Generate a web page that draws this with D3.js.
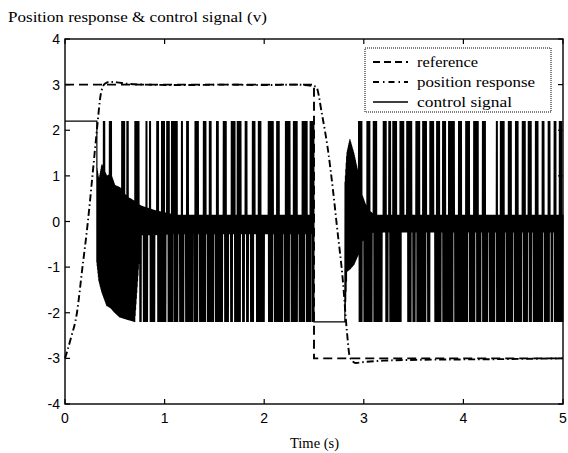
<!DOCTYPE html>
<html><head><meta charset="utf-8">
<script src="https://cdn.jsdelivr.net/npm/d3@7"></script>
<style>
html,body{margin:0;padding:0;background:#fff;}
svg{display:block;}
</style>
</head><body>
<svg id="c" width="568" height="453"></svg>
<script>
// ---------------- data ----------------
const xTicks = [0, 1, 2, 3, 4, 5];
const yTicks = [-4, -3, -2, -1, 0, 1, 2, 3, 4];
const titleText = "Position response & control signal (v)";
const xLabel = "Time (s)";
const legendLabels = ["reference", "position response", "control signal"];

// reference (square wave)
const refT = [0, 2.5, 2.5, 5];
const refV = [3, 3, -3, -3];

// position response
const posT = [0, 0.06, 0.12, 0.17, 0.23, 0.28, 0.32, 0.36, 0.40, 0.45, 0.52, 0.62, 0.8, 1.2, 1.6, 2.0, 2.3, 2.52, 2.58, 2.64, 2.69, 2.73, 2.79, 2.83, 2.86, 2.92, 3.0, 3.2, 3.6, 4.2, 5.0];
const posV = [-3.0, -2.55, -2.0, -1.1, 0.0, 1.1, 2.0, 2.8, 3.02, 3.06, 3.05, 3.02, 3.0, 2.99, 3.0, 2.99, 3.0, 2.96, 2.35, 1.57, 0.7, -0.1, -1.3, -2.4, -2.97, -3.1, -3.08, -3.05, -3.03, -3.02, -3.0];

// control signal: saturation level, start / saturated segments
const ctrlSat = 2.2;
const ctrlStartEnd = 0.32;       // holds +sat until here
const ctrlNegHold = [2.5, 2.81]; // holds -sat in this window
// envelope of the dense chattering band (region 1: 0.32-2.5, region 2: 2.81-5)
const band1T  = [0.32, 0.34, 0.37, 0.42, 0.46, 0.50, 0.55, 0.62, 0.70, 0.76, 0.90, 1.10, 2.50];
const band1Hi = [1.2, 0.9, 1.25, 1.0, 1.05, 0.8, 0.75, 0.55, 0.45, 0.35, 0.25, 0.15, 0.15];
const band1Lo = [-0.9, -1.3, -1.55, -1.85, -1.9, -2.0, -2.1, -2.15, -2.2, -0.3, -0.3, -0.28, -0.28];
const band2T  = [2.81, 2.83, 2.86, 2.90, 2.94, 2.98, 3.03, 3.1, 5.0];
const band2Hi = [0.8, 1.5, 1.8, 1.5, 1.1, 0.6, 0.3, 0.15, 0.15];
const band2Lo = [-2.2, -1.1, -1.05, -0.95, -0.75, -0.45, -0.3, -0.24, -0.24];
// intervals where the control signal hits +sat
const upSpikes = [
  [0.385,0.40],[0.445,0.47],[0.57,0.60],[0.62,0.635],[0.70,0.746],[0.813,0.826],[0.847,0.86],
  [0.92,0.94],[0.97,1.00],[1.02,1.05],[1.07,1.13],[1.17,1.18],[1.22,1.24],[1.305,1.34],
  [1.39,1.415],[1.45,1.47],[1.52,1.54],[1.59,1.62],[1.67,1.71],[1.73,1.77],[1.81,1.83],
  [1.88,1.91],[1.94,1.97],[2.04,2.09],[2.125,2.15],[2.21,2.26],[2.29,2.33],[2.38,2.43],[2.46,2.50],
  [2.945,2.98],[3.03,3.06],[3.095,3.13],[3.195,3.225],[3.25,3.27],[3.29,3.33],[3.36,3.40],
  [3.43,3.48],[3.52,3.56],[3.59,3.63],[3.66,3.70],[3.73,3.76],[3.79,3.82],[3.85,3.91],
  [3.95,3.98],[4.02,4.06],[4.10,4.15],[4.19,4.22],[4.33,4.34],[4.37,4.41],[4.45,4.48],
  [4.52,4.55],[4.59,4.62],[4.65,4.68],[4.72,4.75],[4.79,4.81],[4.85,4.87],[4.91,4.93],[4.96,4.99]
];
// intervals where the control signal hits -sat
const downSpikes = [
  [0.752,0.768],[0.786,0.829],[0.856,0.904],[0.931,1.014],[1.036,1.084],[1.096,1.134],[1.151,1.194],
  [1.211,1.284],[1.296,1.334],[1.351,1.414],[1.431,1.494],[1.511,1.584],[1.601,1.644],[1.661,1.684],
  [1.701,1.764],[1.781,1.804],[1.821,1.844],[1.861,1.894],[1.921,2.004],[2.041,2.084],[2.101,2.184],
  [2.201,2.254],[2.271,2.334],[2.351,2.404],[2.421,2.464],[2.476,2.5],
  [2.95,2.984],[3.001,3.084],[3.101,3.184],[3.221,3.244],[3.261,3.374],[3.441,3.474],[3.491,3.514],
  [3.531,3.624],[3.641,3.664],[3.711,3.724],[3.731,3.774],[3.791,3.894],[3.911,4.044],[4.061,4.114],
  [4.131,4.174],[4.191,4.244],[4.261,4.314],[4.331,4.414],[4.431,4.494],[4.511,4.584],[4.601,4.644],
  [4.661,4.684],[4.701,4.794],[4.811,4.864],[4.881,4.894],[4.911,5.0]
];

// ---------------- layout ----------------
const svg = d3.select("#c");
const L = 65, R = 563, T = 39, B = 404;
const x = d3.scaleLinear().domain([0, 5]).range([L, R]);
const y = d3.scaleLinear().domain([-4, 4]).range([B, T]);

// ---------------- build control signal path ----------------
function inAny(t, list) { return list.some(s => t >= s[0] && t <= s[1]); }
const ctrl = [[0, ctrlSat], [ctrlStartEnd, ctrlSat]];
function region(t0, t1, bT, bHi, bLo) {
  const hiS = d3.scaleLinear().domain(bT).range(bHi).clamp(true);
  const loS = d3.scaleLinear().domain(bT).range(bLo).clamp(true);
  const dt = 0.002;
  let k = 0;
  for (let t = t0; t <= t1 + 1e-9; t += dt, k++) {
    const hi = inAny(t, upSpikes) ? ctrlSat : hiS(t);
    const lo = inAny(t, downSpikes) ? -ctrlSat : loS(t);
    ctrl.push([t, k % 2 === 0 ? lo : hi]);
  }
}
region(ctrlStartEnd, ctrlNegHold[0], band1T, band1Hi, band1Lo);
ctrl.push([ctrlNegHold[0], -ctrlSat], [ctrlNegHold[1], -ctrlSat]);
region(ctrlNegHold[1], 5, band2T, band2Hi, band2Lo);

const line = d3.line().x(d => x(d[0])).y(d => y(d[1]));

const g = svg.append("g");
g.append("path").datum(ctrl).attr("d", line)
  .attr("fill", "none").attr("stroke", "#000").attr("stroke-width", 1.2);
g.append("path").datum(refT.map((t, i) => [t, refV[i]])).attr("d", line)
  .attr("fill", "none").attr("stroke", "#000").attr("stroke-width", 1.9)
  .attr("stroke-dasharray", "9,5");
g.append("path").datum(posT.map((t, i) => [t, posV[i]])).attr("d", d3.line().curve(d3.curveMonotoneX).x(d => x(d[0])).y(d => y(d[1])))
  .attr("fill", "none").attr("stroke", "#000").attr("stroke-width", 1.9)
  .attr("stroke-dasharray", "7,3,1.5,3");

// ---------------- axes ----------------
const fontSans = "'Liberation Sans', Arial, sans-serif";
const fontSerif = "'Liberation Serif', 'Times New Roman', serif";
const tick = 5;
const ax = svg.append("g");
ax.append("rect").attr("x", L).attr("y", T).attr("width", R - L).attr("height", B - T)
  .attr("fill", "none").attr("stroke", "#000").attr("stroke-width", 1.4);
xTicks.forEach(v => {
  ax.append("line").attr("x1", x(v)).attr("x2", x(v)).attr("y1", B).attr("y2", B - tick).attr("stroke", "#000").attr("stroke-width", 1.2);
  ax.append("line").attr("x1", x(v)).attr("x2", x(v)).attr("y1", T).attr("y2", T + tick).attr("stroke", "#000").attr("stroke-width", 1.2);
  ax.append("text").attr("x", x(v)).attr("y", 423).attr("text-anchor", "middle")
    .attr("font-family", fontSans).attr("font-size", 14).text(v);
});
yTicks.forEach(v => {
  ax.append("line").attr("x1", L).attr("x2", L + tick).attr("y1", y(v)).attr("y2", y(v)).attr("stroke", "#000").attr("stroke-width", 1.2);
  ax.append("line").attr("x1", R).attr("x2", R - tick).attr("y1", y(v)).attr("y2", y(v)).attr("stroke", "#000").attr("stroke-width", 1.2);
  ax.append("text").attr("x", 60).attr("y", y(v) + 5).attr("text-anchor", "end")
    .attr("font-family", fontSans).attr("font-size", 14).text(v);
});
svg.append("text").attr("x", 8).attr("y", 22).attr("font-family", fontSerif)
  .attr("font-size", 15.5).attr("textLength", 259).attr("lengthAdjust", "spacingAndGlyphs").text(titleText);
svg.append("text").attr("x", 290).attr("y", 448)
  .attr("font-family", fontSerif).attr("font-size", 14).attr("textLength", 49).attr("lengthAdjust", "spacingAndGlyphs").text(xLabel);

// ---------------- legend ----------------
const lg = svg.append("g");
lg.append("rect").attr("x", 365).attr("y", 48).attr("width", 186).attr("height", 64)
  .attr("fill", "#fff").attr("stroke", "#000").attr("stroke-width", 1).attr("stroke-dasharray", "1,1");
const dashes = ["7,4", "6,4,1.5,4", null];
const legendLens = [61, 118, 95];
legendLabels.forEach((lab, i) => {
  const yy = 62 + i * 20;
  const ln = lg.append("line").attr("x1", 373).attr("x2", 408).attr("y1", yy).attr("y2", yy)
    .attr("stroke", "#000").attr("stroke-width", i < 2 ? 1.9 : 1.4);
  if (dashes[i]) ln.attr("stroke-dasharray", dashes[i]);
  lg.append("text").attr("x", 417).attr("y", yy + 5).attr("font-family", fontSerif)
    .attr("font-size", 15.5).attr("textLength", legendLens[i]).attr("lengthAdjust", "spacingAndGlyphs").text(lab);
});
</script>
</body></html>
